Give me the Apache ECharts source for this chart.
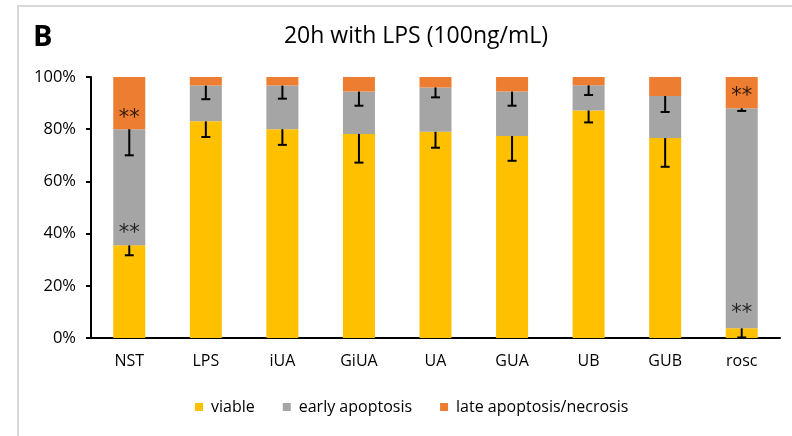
<!DOCTYPE html>
<html>
<head>
<meta charset="utf-8">
<script src="https://cdn.jsdelivr.net/npm/echarts@6/dist/echarts.min.js"></script>
<style>
  html, body { margin: 0; padding: 0; background: #fff; }
  #chart { width: 792px; height: 436px; }
</style>
</head>
<body>
<div id="chart"></div>
<script>
// Cell viability after 20h LPS stimulation, stacked per treatment (percent of cells)
const categories = ['NST', 'LPS', 'iUA', 'GiUA', 'UA', 'GUA', 'UB', 'GUB', 'rosc'];
const viable        = [35.5, 83.0, 80.0, 78.2, 79.0, 77.4, 87.2, 76.6, 3.7];
const earlyApoptosis = [44.5, 13.7, 16.7, 16.2, 17.0, 17.0, 9.6, 16.1, 84.3];
const lateApoptosis  = [20.0, 3.3, 3.3, 5.6, 4.0, 5.6, 3.2, 7.3, 12.0];
// Standard deviation (drawn downward from the top of each segment)
const viableErr = [3.8, 6.0, 6.0, 11.0, 6.1, 9.5, 4.6, 11.0, 3.5];
const earlyErr  = [10.0, 5.2, 5.0, 5.4, 3.8, 5.4, 3.7, 6.1, 1.0];
// Significance marks: [category index, y position in %]
const significance = [[0, 84], [0, 40], [8, 92.5], [8, 9.5]];
const yTicks = [0, 20, 40, 60, 80, 100];

const FONT = '"Open Sans", sans-serif';
const COLORS = { viable: '#FFC000', early: '#A5A5A5', late: '#ED7D31' };

// Error bar data: [index, segment top, error]
const errData = [];
categories.forEach((c, i) => {
  errData.push([i, viable[i], viableErr[i]]);
  errData.push([i, viable[i] + earlyApoptosis[i], earlyErr[i]]);
});

const chart = echarts.init(document.getElementById('chart'), null, { renderer: 'canvas' });

chart.setOption({
  animation: false,
  backgroundColor: '#fff',
  graphic: [
    {
      type: 'polyline',
      shape: { points: [[18, 440], [18, 6], [800, 6]] },
      style: { stroke: '#d9d9d9', lineWidth: 2, fill: null },
      silent: true
    },
    {
      type: 'text', left: 33, top: 23,
      style: { text: 'B', font: 'bold 29px ' + FONT, fill: '#000' }
    }
  ],
  title: {
    text: '20h with LPS (100ng/mL)',
    left: 411, top: 20, textAlign: 'center',
    textStyle: { fontFamily: FONT, fontSize: 23, fontWeight: 'normal', color: '#000' }
  },
  legend: {
    left: 190, top: 394,
    icon: 'rect', itemWidth: 8, itemHeight: 8, itemGap: 28,
    textStyle: { fontFamily: FONT, fontSize: 16, color: '#000', padding: [0, 0, 0, 3] },
    data: ['viable', 'early apoptosis', 'late apoptosis/necrosis']
  },
  grid: { left: 91, right: 12, top: 77, bottom: 98 },
  xAxis: {
    type: 'category',
    data: categories,
    axisLine: { lineStyle: { color: '#000', width: 2 } },
    axisTick: { show: false },
    axisLabel: { fontFamily: FONT, fontSize: 16, color: '#000', margin: 15 }
  },
  yAxis: {
    type: 'value', min: yTicks[0], max: yTicks[yTicks.length - 1], interval: 20,
    splitLine: { show: false },
    axisLine: { show: true, lineStyle: { color: '#000', width: 2 } },
    axisTick: { show: true, length: 5, lineStyle: { color: '#000', width: 2 } },
    axisLabel: { fontFamily: FONT, fontSize: 16.5, color: '#000', margin: 15, formatter: '{value}%' }
  },
  series: [
    {
      name: 'viable', type: 'bar', stack: 'cells', barWidth: 32,
      itemStyle: { color: COLORS.viable },
      data: viable
    },
    {
      name: 'early apoptosis', type: 'bar', stack: 'cells', barWidth: 32,
      itemStyle: { color: COLORS.early },
      data: earlyApoptosis
    },
    {
      name: 'late apoptosis/necrosis', type: 'bar', stack: 'cells', barWidth: 32,
      itemStyle: { color: COLORS.late },
      data: lateApoptosis
    },
    {
      name: 'sd', type: 'custom', z: 10,
      data: errData,
      renderItem: function (params, api) {
        const x = api.value(0);
        const top = api.coord([x, api.value(1)]);
        const bot = api.coord([x, api.value(1) - api.value(2)]);
        const half = 4.5;
        return {
          type: 'group',
          children: [
            { type: 'line', shape: { x1: top[0], y1: top[1], x2: bot[0], y2: bot[1] },
              style: { stroke: '#000', lineWidth: 2 } },
            { type: 'line', shape: { x1: bot[0] - half, y1: bot[1], x2: bot[0] + half, y2: bot[1] },
              style: { stroke: '#000', lineWidth: 2 } }
          ]
        };
      }
    },
    {
      name: 'sig', type: 'scatter', symbolSize: 0, z: 11,
      data: significance,
      label: {
        show: true, position: 'inside', formatter: '**',
        fontFamily: '"DejaVu Sans", sans-serif', fontSize: 21, color: '#000'
      }
    }
  ]
});
</script>
</body>
</html>
